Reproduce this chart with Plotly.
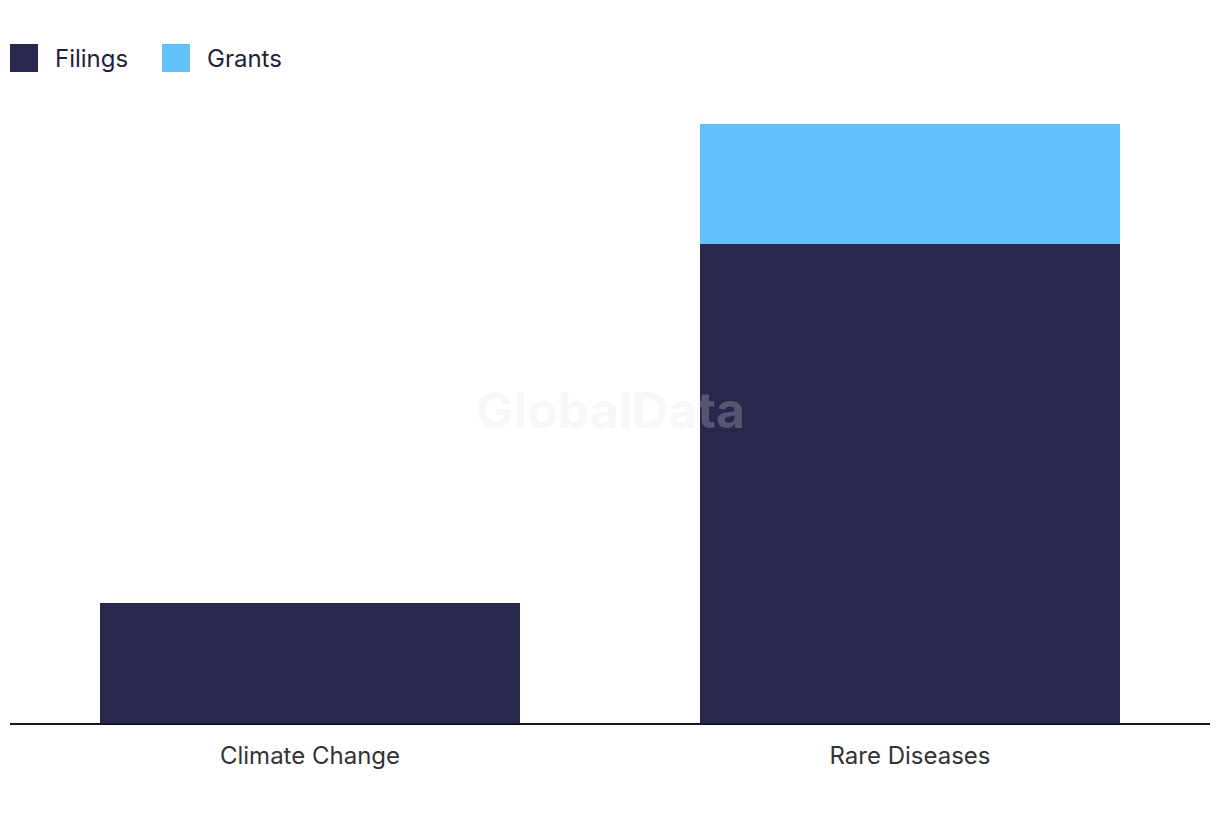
import plotly.graph_objects as go

categories = ["Climate Change", "Rare Diseases"]
filings = [1, 4]
grants = [0, 1]
series_names = ["Filings", "Grants"]
series_colors = ["#27284c", "#62c1f8"]

W, H = 1220, 820
OFF = 8  # page body offset
ML, MR, MT, MB = 10 - OFF, 10 + OFF, 124 - OFF, 97 + OFF
PW, PH = W - ML - MR, H - MT - MB

def px(x):
    return (x - OFF - ML) / PW

def py(y):
    return (H - MB - (y - OFF)) / PH

fig = go.Figure()
fig.add_trace(go.Bar(x=categories, y=filings, name=series_names[0],
                     marker=dict(color=series_colors[0], line=dict(width=0)),
                     showlegend=False))
fig.add_trace(go.Bar(x=categories, y=grants, name=series_names[1],
                     marker=dict(color=series_colors[1], line=dict(width=0)),
                     showlegend=False))

shapes = []
annotations = []
legend_x = [10, 162]
for i, (name, col) in enumerate(zip(series_names, series_colors)):
    x0 = legend_x[i]
    shapes.append(dict(type="rect", xref="paper", yref="paper",
                       x0=px(x0), x1=px(x0 + 28), y0=py(72), y1=py(44),
                       fillcolor=col, line=dict(width=0)))
    annotations.append(dict(text=name, xref="paper", yref="paper",
                            x=px(x0 + 43), y=py(58), xanchor="left", yanchor="middle",
                            showarrow=False,
                            font=dict(family="Inter, sans-serif", size=24, color="#1e1f3a")))

annotations.append(dict(text="<b>GlobalData</b>", xref="paper", yref="paper",
                        x=px(610), y=py(410), xanchor="center", yanchor="middle",
                        showarrow=False,
                        font=dict(family="Inter, sans-serif", size=50,
                                  color="rgba(223,223,223,0.25)")))

fig.update_layout(
    width=W, height=H,
    margin=dict(l=ML, r=MR, t=MT, b=MB),
    barmode="stack",
    bargap=0.3,
    plot_bgcolor="white",
    paper_bgcolor="white",
    showlegend=False,
    shapes=shapes,
    annotations=annotations,
    xaxis=dict(showline=True, linecolor="#15152a", linewidth=2,
               ticks="outside", ticklen=10, tickcolor="rgba(0,0,0,0)",
               showgrid=False, zeroline=False,
               tickfont=dict(family="Inter, sans-serif", size=24, color="#333333")),
    yaxis=dict(range=[0, 5], visible=False, showgrid=False, zeroline=False),
)

fig.write_html("out.html")
